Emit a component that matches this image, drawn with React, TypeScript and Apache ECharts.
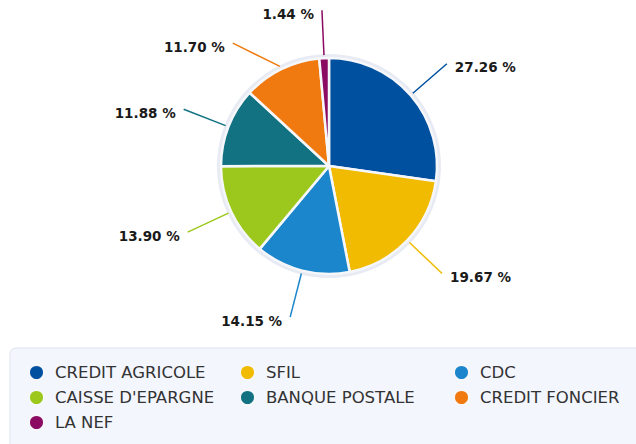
import React, { useEffect, useRef } from "react";
import * as echarts from "echarts";

const categories = [
  "CREDIT AGRICOLE",
  "SFIL",
  "CDC",
  "CAISSE D'EPARGNE",
  "BANQUE POSTALE",
  "CREDIT FONCIER",
  "LA NEF",
];
const shares = [27.26, 19.67, 14.15, 13.9, 11.88, 11.7, 1.44];
const colors = ["#0050a0", "#f0bb00", "#1b86cb", "#9cc81e", "#127282", "#f17a10", "#8b0b62"];
const legendColumns = [
  ["CREDIT AGRICOLE", "CAISSE D'EPARGNE", "LA NEF"],
  ["SFIL", "BANQUE POSTALE"],
  ["CDC", "CREDIT FONCIER"],
];
const legendLefts = [28, 239, 453];

// Geometry of the pie (layout, not data)
const CX = 329;
const CY = 166;
const R_SLICE = 108;
const R_EDGE = 111;
const R_LABEL = 156;
const MIN_GAP = 33;

function computeLabelLines() {
  const total = shares.reduce((a, b) => a + b, 0);
  let cum = 0;
  const items = shares.map((v, i) => {
    const mid = ((cum + v / 2) / total) * Math.PI * 2;
    cum += v;
    const sx = CX + R_EDGE * Math.sin(mid);
    const sy = CY - R_EDGE * Math.cos(mid);
    const ex = CX + R_LABEL * Math.sin(mid);
    const ey = CY - R_LABEL * Math.cos(mid);
    return { i, sx, sy, ex, ey, right: Math.sin(mid) >= 0 };
  });
  for (const side of [true, false]) {
    const group = items.filter((d) => d.right === side).sort((a, b) => a.ey - b.ey);
    for (let k = 1; k < group.length; k++) {
      const prev = group[k - 1];
      const cur = group[k];
      if (cur.ey < prev.ey + MIN_GAP) {
        cur.ey = prev.ey + MIN_GAP;
        const dy = cur.ey - CY;
        const dx = Math.sqrt(Math.max(0, R_LABEL * R_LABEL - dy * dy));
        cur.ex = CX + (side ? dx : -dx);
      }
    }
  }
  const byIndex: any[] = [];
  items.forEach((d) => (byIndex[d.i] = d));
  return byIndex;
}

export default function App() {
  const ref = useRef<HTMLDivElement>(null);
  useEffect(() => {
    if (!ref.current) return;
    const chart = echarts.init(ref.current, null, { renderer: "svg" });
    const lines = computeLabelLines();
    chart.setOption({
      animation: false,
      backgroundColor: "#ffffff",
      graphic: [
        {
          type: "rect",
          z: -10,
          shape: { x: 10, y: 348, width: 640, height: 110, r: 6 },
          style: { fill: "#f3f6fd", stroke: "#dde2ee", lineWidth: 1 },
        },
      ],
      legend: legendColumns.map((col, i) => ({
        data: col,
        left: legendLefts[i],
        top: 364,
        orient: "vertical",
        icon: "circle",
        itemWidth: 15,
        itemHeight: 15,
        itemGap: 8,
        padding: 0,
        selectedMode: false,
        textStyle: {
          fontFamily: "DejaVu Sans",
          fontSize: 16.5,
          lineHeight: 16,
          color: "#333333",
          padding: [0, 0, 0, 6],
        },
      })),
      series: [
        {
          type: "pie",
          center: [CX, CY],
          radius: [0, R_EDGE + 1],
          silent: true,
          z: 1,
          label: { show: false },
          labelLine: { show: false },
          itemStyle: { color: "#e8ebf3" },
          emphasis: { disabled: true },
          data: [{ value: 1, name: "__bg" }],
        },
        {
          type: "pie",
          center: [CX, CY],
          radius: [0, R_SLICE],
          startAngle: 90,
          clockwise: true,
          z: 2,
          itemStyle: { borderColor: "#f6f7fb", borderWidth: 2.5 },
          label: {
            show: true,
            formatter: (p: any) => p.value.toFixed(2) + " %",
            fontFamily: "DejaVu Sans",
            fontWeight: "bold",
            fontSize: 13.5,
            color: "#1a1a1a",
          },
          labelLine: {
            show: true,
            length: 46,
            length2: 0,
            lineStyle: { width: 1.5 },
          },
          labelLayout: (params: any) => {
            if (params.seriesIndex !== 1) return {};
            const d = lines[params.dataIndex];
            if (!d) return {};
            return {
              x: d.right ? d.ex + 8 : d.ex - 8,
              y: d.ey + 3.5,
              align: d.right ? "left" : "right",
              verticalAlign: "middle",
              labelLinePoints: [
                [d.sx, d.sy],
                [d.ex, d.ey],
                [d.ex, d.ey],
              ],
            };
          },
          emphasis: { disabled: true },
          data: categories.map((n, i) => ({
            name: n,
            value: shares[i],
            itemStyle: { color: colors[i] },
          })),
        },
      ],
    });
    return () => chart.dispose();
  }, []);
  return (
    <div
      ref={ref}
      style={{ position: "fixed", left: 0, top: 0, width: 636, height: 444 }}
    />
  );
}
